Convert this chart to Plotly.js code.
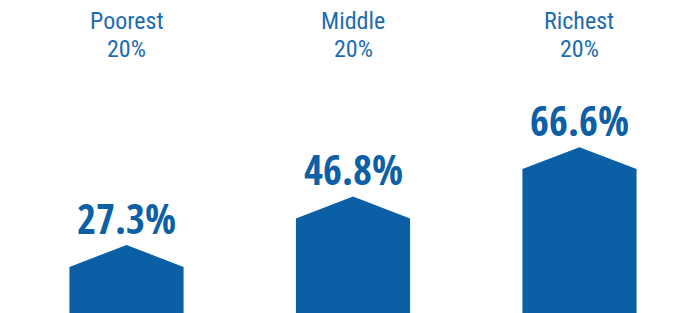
<!DOCTYPE html>
<html>
<head>
<meta charset="utf-8">
<script src="https://cdn.plot.ly/plotly-3.0.1.min.js"></script>
<style>html,body{margin:0;padding:0;background:#fff;}#chart{width:697px;height:313px;}</style>
</head>
<body>
<div id="chart"></div>
<script>
var groups = ["Poorest", "Middle", "Richest"];
var groupShares = ["20%", "20%", "20%"];
var values = [27.3, 46.8, 66.6];
var valueLabels = ["27.3%", "46.8%", "66.6%"];

var barColor = "#0b5fa5";
var textColor = "#0d5fa6";
var boldFont = "'Open Sans Condensed', 'Roboto Condensed', sans-serif";
var labelFont = "'Roboto Condensed', 'DejaVu Sans Condensed', sans-serif";
var halfW = 0.252;
var roof = 8.8;

var traces = values.map(function (v, i) {
  return {
    type: "scatter",
    mode: "lines",
    x: [i - halfW, i - halfW, i, i + halfW, i + halfW, i - halfW],
    y: [0, v - roof, v, v - roof, 0, 0],
    fill: "toself",
    fillcolor: barColor,
    line: {width: 0, color: barColor},
    hoverinfo: "skip",
    showlegend: false
  };
});

var annotations = [];
values.forEach(function (v, i) {
  annotations.push({
    x: i, y: v, xref: "x", yref: "y",
    text: "<b>" + valueLabels[i] + "</b>",
    showarrow: false, xanchor: "center", yanchor: "bottom", yshift: -3,
    font: {family: boldFont, size: 41, color: textColor}
  });
  annotations.push({
    x: i, y: 0.933, xref: "x", yref: "paper",
    text: groups[i],
    showarrow: false, xanchor: "center", yanchor: "middle",
    font: {family: labelFont, size: 24, color: "#1d6cb0"}
  });
  annotations.push({
    x: i, y: 0.8435, xref: "x", yref: "paper",
    text: groupShares[i],
    showarrow: false, xanchor: "center", yanchor: "middle",
    font: {family: labelFont, size: 24, color: "#1d6cb0"}
  });
});

var layout = {
  width: 697, height: 313,
  margin: {l: 0, r: 0, t: 0, b: 0},
  paper_bgcolor: "#ffffff", plot_bgcolor: "#ffffff",
  xaxis: {range: [-0.5585, 2.5188], visible: false, fixedrange: true},
  yaxis: {range: [0, 125.7], visible: false, fixedrange: true},
  annotations: annotations,
  showlegend: false
};

Plotly.newPlot("chart", traces, layout, {displayModeBar: false, staticPlot: true});
</script>
</body>
</html>
